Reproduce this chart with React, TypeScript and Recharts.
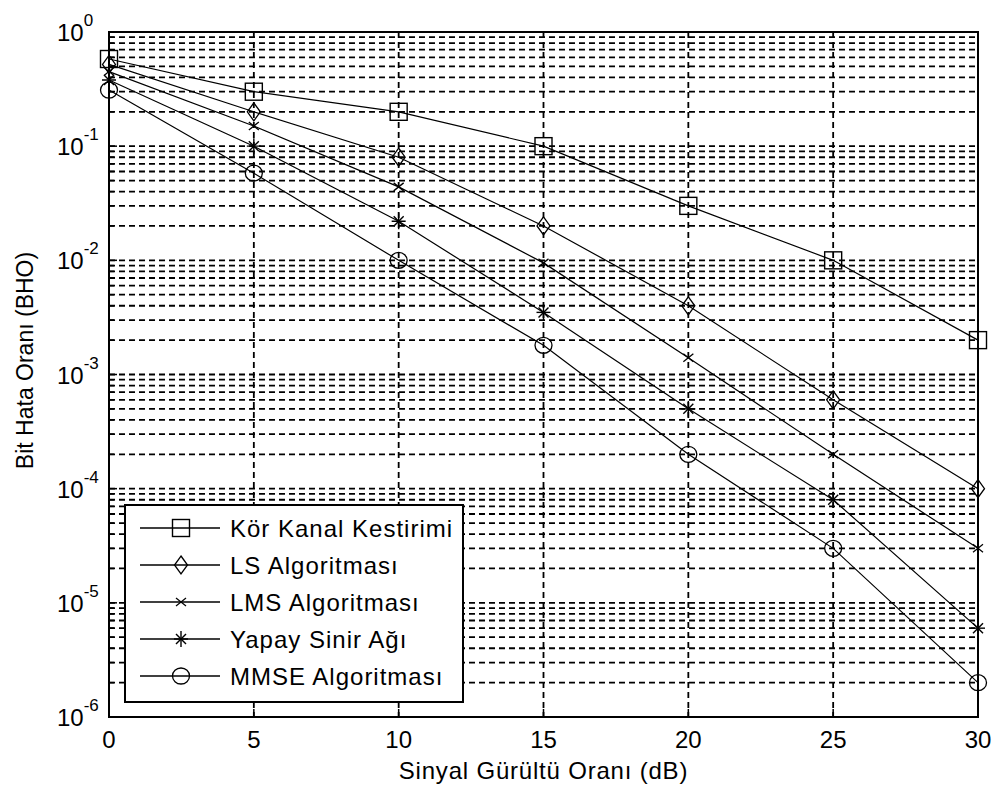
import React from 'react'
import { LineChart, Line, XAxis, YAxis, CartesianGrid, ReferenceArea } from 'recharts'

// SNR (dB) and bit error rate for each estimator
const snrDb = [0, 5, 10, 15, 20, 25, 30]
const korKanal = [0.58, 0.3, 0.2, 0.1, 0.03, 0.01, 0.002]
const lsAlg = [0.52, 0.2, 0.08, 0.02, 0.004, 0.0006, 0.0001]
const lmsAlg = [0.45, 0.15, 0.044, 0.0095, 0.0014, 0.0002, 0.00003]
const yapaySinir = [0.38, 0.1, 0.022, 0.0035, 0.0005, 0.00008, 0.000006]
const mmseAlg = [0.31, 0.058, 0.01, 0.0018, 0.0002, 0.00003, 0.000002]

const xTicks = [0, 5, 10, 15, 20, 25, 30]
const decades = [-6, -5, -4, -3, -2, -1]
const yTicks: number[] = []
for (const e of decades) {
  for (let m = 1; m <= 9; m++) yTicks.push(Number((m * Math.pow(10, e)).toPrecision(3)))
}
yTicks.push(1)

const rows = snrDb.map((snr, i) => ({
  snr,
  kor: korKanal[i],
  ls: lsAlg[i],
  lms: lmsAlg[i],
  ysa: yapaySinir[i],
  mmse: mmseAlg[i],
}))

const FONT = '"Liberation Sans", Arial, Helvetica, sans-serif'
const INK = '#000'

function isDecade(v: number) {
  const l = Math.log10(v)
  return Math.abs(l - Math.round(l)) < 1e-6
}

// ---- markers (MATLAB style, hollow) ----
function SquareDot({ cx, cy }: any) {
  if (cx == null || cy == null) return null
  return <rect x={cx - 8.5} y={cy - 8.5} width={17} height={17} fill="none" stroke={INK} strokeWidth={1.4} />
}
function DiamondDot({ cx, cy }: any) {
  if (cx == null || cy == null) return null
  return (
    <polygon
      points={`${cx},${cy - 9} ${cx + 6.5},${cy} ${cx},${cy + 9} ${cx - 6.5},${cy}`}
      fill="none"
      stroke={INK}
      strokeWidth={1.3}
    />
  )
}
function CrossDot({ cx, cy }: any) {
  if (cx == null || cy == null) return null
  return (
    <g stroke={INK} strokeWidth={1.3}>
      <line x1={cx - 5} y1={cy - 4} x2={cx + 5} y2={cy + 4} />
      <line x1={cx - 5} y1={cy + 4} x2={cx + 5} y2={cy - 4} />
    </g>
  )
}
function StarDot({ cx, cy }: any) {
  if (cx == null || cy == null) return null
  return (
    <g stroke={INK} strokeWidth={1.4}>
      <line x1={cx} y1={cy - 8} x2={cx} y2={cy + 8} />
      <line x1={cx - 7} y1={cy} x2={cx + 7} y2={cy} />
      <line x1={cx - 5} y1={cy - 5} x2={cx + 5} y2={cy + 5} />
      <line x1={cx - 5} y1={cy + 5} x2={cx + 5} y2={cy - 5} />
    </g>
  )
}
function CircleDot({ cx, cy }: any) {
  if (cx == null || cy == null) return null
  return <ellipse cx={cx} cy={cy} rx={8.5} ry={8} fill="none" stroke={INK} strokeWidth={1.3} />
}

const seriesDefs = [
  { key: 'kor', name: 'Kör Kanal Kestirimi', Dot: SquareDot },
  { key: 'ls', name: 'LS Algoritması', Dot: DiamondDot },
  { key: 'lms', name: 'LMS Algoritması', Dot: CrossDot },
  { key: 'ysa', name: 'Yapay Sinir Ağı', Dot: StarDot },
  { key: 'mmse', name: 'MMSE Algoritması', Dot: CircleDot },
]

// ---- ticks drawn inside the box, like MATLAB ----
function BottomTick({ x, y, payload }: any) {
  return (
    <g>
      <line x1={x} y1={y} x2={x} y2={y - 8} stroke={INK} strokeWidth={1.5} />
      <text x={x} y={y + 31} textAnchor="middle" fontSize={24} fontFamily={FONT} fill={INK}>
        {payload.value}
      </text>
    </g>
  )
}
function TopTick({ x, y }: any) {
  return <line x1={x} y1={y} x2={x} y2={y + 8} stroke={INK} strokeWidth={1.5} />
}
function LeftTick({ x, y, payload }: any) {
  const major = isDecade(payload.value)
  return (
    <g>
      <line x1={x} y1={y} x2={x + (major ? 8 : 5)} y2={y} stroke={INK} strokeWidth={1.5} />
      {major && (
        <text x={x - 52} y={y + 9} fontSize={24} fontFamily={FONT} fill={INK}>
          <tspan>10</tspan>
          <tspan dy={-15} fontSize={17}>{Math.round(Math.log10(payload.value))}</tspan>
        </text>
      )}
    </g>
  )
}
function RightTick({ x, y, payload }: any) {
  const major = isDecade(payload.value)
  return <line x1={x} y1={y} x2={x - (major ? 8 : 5)} y2={y} stroke={INK} strokeWidth={1.5} />
}

function YTitle({ viewBox }: any) {
  if (!viewBox) return null
  const cx = viewBox.x + 25
  const cy = viewBox.y + viewBox.height / 2 - 14
  return (
    <text
      x={cx}
      y={cy}
      transform={`rotate(-90 ${cx} ${cy})`}
      textAnchor="middle"
      dominantBaseline="central"
      fontSize={23}
      fontFamily={FONT}
      fill={INK}
    >
      Bit Hata Oranı (BHO)
    </text>
  )
}

function LegendBox() {
  return (
    <svg
      width={340}
      height={199}
      style={{ position: 'absolute', left: 124, top: 504 }}
    >
      <rect x={1} y={1} width={338} height={197} fill="#fff" stroke={INK} strokeWidth={2} />
      {seriesDefs.map((s, i) => {
        const cy = 24 + i * 37
        const Dot = s.Dot
        return (
          <g key={s.key}>
            <line x1={16} y1={cy} x2={96} y2={cy} stroke={INK} strokeWidth={1.3} />
            <Dot cx={57} cy={cy} />
            <text x={106} y={cy + 8.5} fontSize={24} letterSpacing={1} fontFamily={FONT} fill={INK}>
              {s.name}
            </text>
          </g>
        )
      })}
    </svg>
  )
}

export default function App() {
  return (
    <div style={{ position: 'absolute', left: 0, top: 0, width: 994, height: 792, background: '#fff' }}>
      <LineChart
        width={994}
        height={792}
        data={rows}
        margin={{ top: 32, right: 16, bottom: 0, left: 0 }}
      >
        <CartesianGrid stroke={INK} strokeWidth={1.8} strokeDasharray="6 4" />
        <XAxis
          dataKey="snr"
          type="number"
          domain={[0, 30]}
          ticks={xTicks}
          interval={0}
          height={75}
          axisLine={false}
          tickLine={false}
          tickSize={0}
          tickMargin={0}
          tick={<BottomTick />}
          label={{
            value: 'Sinyal Gürültü Oranı (dB)',
            position: 'insideBottom',
            offset: 13,
            fill: INK,
            fontSize: 24,
            fontFamily: FONT,
            letterSpacing: 0.8,
          }}
        />
        <XAxis
          xAxisId="top"
          orientation="top"
          type="number"
          domain={[0, 30]}
          ticks={xTicks}
          interval={0}
          height={0}
          axisLine={false}
          tickLine={false}
          tickSize={0}
          tickMargin={0}
          tick={<TopTick />}
        />
        <YAxis
          type="number"
          scale="log"
          domain={[1e-6, 1]}
          allowDataOverflow
          ticks={yTicks}
          interval={0}
          width={109}
          axisLine={false}
          tickLine={false}
          tickSize={0}
          tickMargin={0}
          tick={<LeftTick />}
          label={<YTitle />}
        />
        <YAxis
          yAxisId="right"
          orientation="right"
          type="number"
          scale="log"
          domain={[1e-6, 1]}
          allowDataOverflow
          ticks={yTicks}
          interval={0}
          width={0}
          axisLine={false}
          tickLine={false}
          tickSize={0}
          tickMargin={0}
          tick={<RightTick />}
        />
        <ReferenceArea
          x1={0}
          x2={30}
          y1={1e-6}
          y2={1}
          fill="none"
          fillOpacity={0}
          stroke={INK}
          strokeWidth={2}
          ifOverflow="visible"
        />
        {seriesDefs.map((s) => (
          <Line
            key={s.key}
            dataKey={s.key}
            name={s.name}
            type="linear"
            stroke={INK}
            strokeWidth={1.2}
            dot={<s.Dot />}
            activeDot={false}
            isAnimationActive={false}
          />
        ))}
      </LineChart>
      <LegendBox />
    </div>
  )
}
